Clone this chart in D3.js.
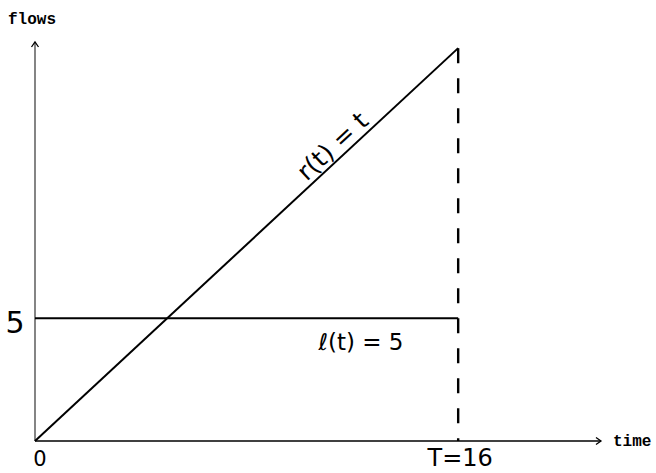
<!DOCTYPE html>
<html>
<head>
<meta charset="utf-8">
<script src="https://cdn.jsdelivr.net/npm/d3@7"></script>
<style>
  body { margin: 0; background: #fff; }
  svg { display: block; }
  .mono { font-family: "Liberation Mono", "DejaVu Sans Mono", monospace; font-weight: bold; font-size: 16px; }
  .hand { font-family: "DejaVu Sans", sans-serif; font-weight: normal; }
</style>
</head>
<body>
<svg id="chart"></svg>
<script>
// data
const times = [0, 16];
const rValues = [0, 16];      // r(t) = t
const lValues = [5, 5];       // l(t) = 5
const horizon = 16;           // T
const xAxisMax = 21.4;
const yAxisMax = 16.25;
const tickLabels = ["0", "5", "T=16"];
const axisTitles = ["time", "flows"];
const lineLabels = ["r(t) = t", "\u2113(t) = 5"];

const width = 656, height = 473;

const svg = d3.select("#chart").attr("width", width).attr("height", height);

// Scales
const x = d3.scaleLinear().domain([0, xAxisMax]).range([35, 601]);
const y = d3.scaleLinear().domain([0, yAxisMax]).range([441, 42]);

// arrow heads
const defs = svg.append("defs");
defs.append("marker")
  .attr("id", "arrow")
  .attr("viewBox", "-7 -5 9 10")
  .attr("markerWidth", 9)
  .attr("markerHeight", 10)
  .attr("markerUnits", "userSpaceOnUse")
  .attr("orient", "auto")
  .append("path")
  .attr("d", "M-5,-3.5 L0,0 L-5,3.5")
  .attr("fill", "none")
  .attr("stroke", "#000")
  .attr("stroke-width", 1.3);

// Axes (no ticks, just the lines)
const xAxis = d3.axisBottom(x).tickValues([]).tickSizeOuter(0);
const yAxis = d3.axisLeft(y).tickValues([]).tickSizeOuter(0);

const xg = svg.append("g").attr("transform", `translate(0,${y(0)})`).call(xAxis);
const yg = svg.append("g").attr("transform", `translate(${x(0)},0)`).call(yAxis);

xg.select(".domain").remove();
yg.select(".domain").remove();

svg.append("line")
  .attr("x1", x(0)).attr("y1", y(0))
  .attr("x2", x(xAxisMax)).attr("y2", y(0))
  .attr("stroke", "#000").attr("stroke-width", 1.4)
  .attr("marker-end", "url(#arrow)");

svg.append("line")
  .attr("x1", x(0)).attr("y1", y(0))
  .attr("x2", x(0)).attr("y2", y(yAxisMax))
  .attr("stroke", "#333").attr("stroke-width", 1.2)
  .attr("marker-end", "url(#arrow)");

// Lines
const rData = times.map((t, i) => ({ t, v: rValues[i] }));
const lData = times.map((t, i) => ({ t, v: lValues[i] }));

const lineGenerator = d3.line().x((d) => x(d.t)).y((d) => y(d.v));

svg.append("path")
  .datum(rData)
  .attr("d", lineGenerator)
  .attr("fill", "none")
  .attr("stroke", "#000")
  .attr("stroke-width", 2);

svg.append("path")
  .datum(lData)
  .attr("d", lineGenerator)
  .attr("fill", "none")
  .attr("stroke", "#000")
  .attr("stroke-width", 2);

// dashed T line
svg.append("line")
  .attr("x1", x(horizon)).attr("y1", y(rValues[1]))
  .attr("x2", x(horizon)).attr("y2", y(0))
  .attr("stroke", "#000")
  .attr("stroke-width", 2.4)
  .attr("stroke-dasharray", "15,15");

// axis titles
svg.append("text")
  .attr("class", "mono")
  .attr("x", x(xAxisMax) + 12)
  .attr("y", y(0) + 5)
  .text(axisTitles[0]);

svg.append("text")
  .attr("class", "mono")
  .attr("x", 8)
  .attr("y", 24)
  .text(axisTitles[1]);

// tick labels
svg.append("text")
  .attr("class", "hand")
  .attr("x", x(0) + 5)
  .attr("y", y(0) + 25)
  .attr("text-anchor", "middle")
  .style("font-size", "21px")
  .text(tickLabels[0]);

svg.append("text")
  .attr("class", "hand")
  .attr("x", 15)
  .attr("y", y(5) + 15)
  .attr("text-anchor", "middle")
  .style("font-size", "30px")
  .text(tickLabels[1]);

svg.append("text")
  .attr("class", "hand")
  .attr("x", x(horizon) + 2)
  .attr("y", y(0) + 25)
  .attr("text-anchor", "middle")
  .style("font-size", "24px")
  .text(tickLabels[2]);

// line labels
const angle = Math.atan2(y(16) - y(0), x(16) - x(0)) * 180 / Math.PI;
const labelT = 11.6;
svg.append("text")
  .attr("class", "hand")
  .attr("transform", `translate(${x(labelT)},${y(labelT)}) rotate(${angle})`)
  .attr("text-anchor", "middle")
  .attr("dy", -5)
  .style("font-size", "25px")
  .text(lineLabels[0]);

svg.append("text")
  .attr("class", "hand")
  .attr("x", 361)
  .attr("y", y(5) + 32)
  .attr("text-anchor", "middle")
  .style("font-size", "23px")
  .text(lineLabels[1]);
</script>
</body>
</html>
